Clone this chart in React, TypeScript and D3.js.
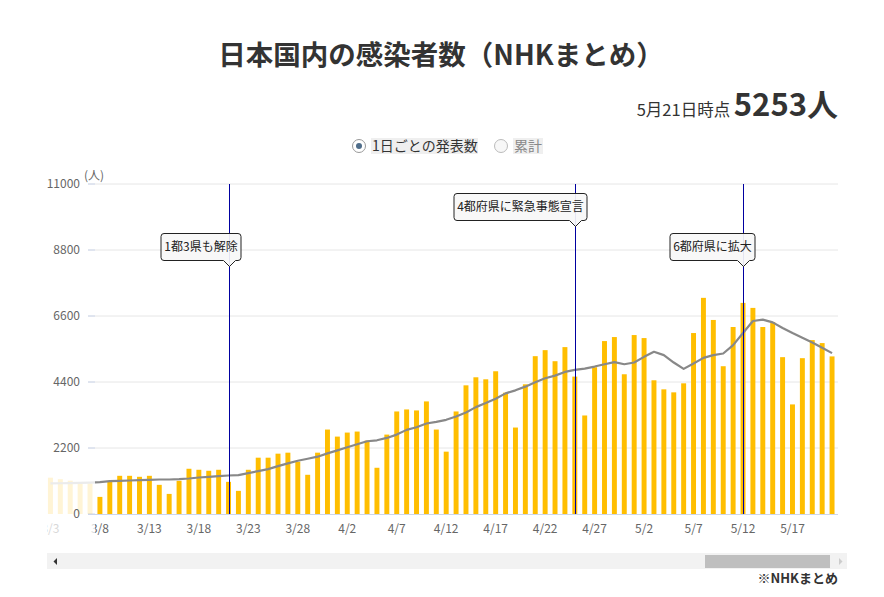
import React from "react";
import * as d3 from "d3";

const W = 884;
const H = 597;
const FONT = "'Noto Sans CJK JP', 'Noto Sans', sans-serif";
const BAR_COLOR = "#ffbe00";
const LINE_COLOR = "#888888";

// 3/3 - 5/21 (first five days sit behind the fixed y axis, faded)
const dates = [
  "3/3", "3/4", "3/5", "3/6", "3/7",
  "3/8", "3/9", "3/10", "3/11", "3/12", "3/13", "3/14", "3/15", "3/16", "3/17", "3/18", "3/19",
  "3/20", "3/21", "3/22", "3/23", "3/24", "3/25", "3/26", "3/27", "3/28", "3/29", "3/30", "3/31",
  "4/1", "4/2", "4/3", "4/4", "4/5", "4/6", "4/7", "4/8", "4/9", "4/10", "4/11", "4/12", "4/13",
  "4/14", "4/15", "4/16", "4/17", "4/18", "4/19", "4/20", "4/21", "4/22", "4/23", "4/24", "4/25",
  "4/26", "4/27", "4/28", "4/29", "4/30",
  "5/1", "5/2", "5/3", "5/4", "5/5", "5/6", "5/7", "5/8", "5/9", "5/10", "5/11", "5/12", "5/13",
  "5/14", "5/15", "5/16", "5/17", "5/18", "5/19", "5/20", "5/21",
];

// daily reported cases
const daily = [
  1210, 1160, 1110, 1020, 1020,
  570, 1095, 1273, 1273, 1240, 1273, 972, 670, 1106, 1508, 1474, 1441,
  1474, 1072, 771, 1474, 1877, 1877, 2011, 2044, 1743, 1307, 2044, 2815,
  2580, 2714, 2748, 2446, 1541, 2647, 3418, 3485, 3452, 3753, 2815, 2078, 3418,
  4289, 4557, 4490, 4758, 4044, 2882, 4323, 5261, 5462, 5093, 5563, 4580,
  3284, 4893, 5764, 5898, 4658,
  5965, 5864, 4457, 4155, 4055, 4356, 6032, 7205, 6468, 4926, 6233, 7037, 6870,
  6233, 6401, 5228, 3653, 5194, 5797, 5697, 5253,
];

// 7-day average line
const average = [
  1020, 1025, 1030, 1035, 1045,
  1061, 1095, 1106, 1117, 1128, 1139, 1150, 1150, 1162, 1184, 1217, 1240,
  1262, 1284, 1296, 1363, 1430, 1497, 1597, 1687, 1776, 1843, 1910, 2022,
  2122, 2223, 2323, 2424, 2457, 2536, 2647, 2804, 2893, 3016, 3072, 3139, 3250,
  3384, 3563, 3697, 3843, 4021, 4122, 4245, 4390, 4524, 4613, 4736, 4803,
  4848, 4915, 4993, 5060, 4993,
  5049, 5239, 5406, 5295, 5049, 4837, 5015, 5205, 5295, 5350, 5630, 6032, 6434,
  6479, 6389, 6200, 6032, 5875, 5719, 5540, 5362,
];

const yTicks = [0, 2200, 4400, 6600, 8800, 11000];
const xTickLabels = [
  "3/3", "3/8", "3/13", "3/18", "3/23", "3/28", "4/2", "4/7",
  "4/12", "4/17", "4/22", "4/27", "5/2", "5/7", "5/12", "5/17",
];

const eventDates = ["3/21", "4/25", "5/12"];
const eventLabels = ["1都3県も解除", "4都府県に緊急事態宣言", "6都府県に拡大"];
const eventRows = [0, 1, 0]; // 0 = lower row, 1 = upper row

const PLOT = { left: 88, right: 838, top: 184, bottom: 514, fadeEdge: 95 };

function labelWidth(t: string) {
  let w = 0;
  for (const c of t) w += /[0-9]/.test(c) ? 7 : 12;
  return w + 6;
}

function calloutPath(px: number, top: number, w: number, h: number) {
  const r = 3;
  const right = px + 11.5;
  const left = right - w;
  const bottom = top + h;
  return [
    `M${left + r},${top}`,
    `H${right - r}`,
    `Q${right},${top} ${right},${top + r}`,
    `V${bottom - r}`,
    `Q${right},${bottom} ${right - r},${bottom}`,
    `H${px + 6}`,
    `L${px},${bottom + 6}`,
    `L${px - 6},${bottom}`,
    `H${left + r}`,
    `Q${left},${bottom} ${left},${bottom - r}`,
    `V${top + r}`,
    `Q${left},${top} ${left + r},${top}`,
    "Z",
  ].join(" ");
}

export default function App() {
  const x = d3.scaleBand<string>().domain(dates).range([45.5, 837]).paddingInner(0.5).paddingOuter(0.25);
  const y = d3.scaleLinear().domain([0, 11000]).range([PLOT.bottom, PLOT.top]);
  const cx = (d: string) => (x(d) as number) + x.bandwidth() / 2;

  const line = d3
    .line<number>()
    .x((_, i) => cx(dates[i]))
    .y((v) => y(v));

  const series = (
    <>
      {dates.map((d, i) => (
        <rect key={d} x={x(d)} y={y(daily[i])} width={x.bandwidth()} height={PLOT.bottom - y(daily[i])} fill={BAR_COLOR} />
      ))}
      <path d={line(average) || ""} fill="none" stroke={LINE_COLOR} strokeWidth={2.2} strokeLinejoin="round" />
    </>
  );

  return (
    <div style={{ position: "absolute", left: 0, top: 0 }}>
      <svg width={W} height={H} style={{ display: "block", fontFamily: FONT }}>
        <defs>
          <clipPath id="clip-main">
            <rect x={PLOT.fadeEdge} y={0} width={PLOT.right - PLOT.fadeEdge + 4} height={H} />
          </clipPath>
          <clipPath id="clip-fade">
            <rect x={47} y={0} width={PLOT.fadeEdge - 47} height={H} />
          </clipPath>
        </defs>
        <rect width={W} height={H} fill="#fff" />

        {/* title */}
        <text x={441} y={65} textAnchor="middle" fontSize={27.5} fontWeight="bold" fill="#333">
          日本国内の感染者数（NHKまとめ）
        </text>
        <text x={838} y={116} textAnchor="end" fill="#333">
          <tspan fontSize={16.5}>5月21日時点 </tspan>
          <tspan fontSize={31} fontWeight="bold">5253人</tspan>
        </text>

        {/* legend */}
        <g>
          <circle cx={359} cy={146} r={6.5} fill="#fff" stroke="#999" />
          <circle cx={359} cy={146} r={3} fill="#4f6d8a" />
          <rect x={371} y={138} width={107} height={16} fill="#efefef" />
          <text x={372} y={151} fontSize={14} fill="#333">1日ごとの発表数</text>
          <circle cx={501} cy={146} r={6.5} fill="#f7f7f7" stroke="#bbb" />
          <rect x={513} y={138} width={30} height={16} fill="#efefef" />
          <text x={514} y={151} fontSize={14} fill="#888">累計</text>
        </g>

        {/* grid */}
        {yTicks.map((t) => (
          <g key={t}>
            {t > 0 && <line x1={PLOT.left} x2={PLOT.right} y1={y(t)} y2={y(t)} stroke="#e6e6e6" />}
            <line x1={PLOT.left} x2={PLOT.fadeEdge} y1={y(t)} y2={y(t)} stroke="#ccd6eb" />
          </g>
        ))}
        <line x1={PLOT.left} x2={PLOT.right} y1={PLOT.bottom + 0.5} y2={PLOT.bottom + 0.5} stroke="#ccd6eb" />

        {/* data */}
        <g clipPath="url(#clip-main)">{series}</g>
        <g clipPath="url(#clip-fade)" opacity={0.16}>{series}</g>

        {/* x labels */}
        <g clipPath="url(#clip-main)">
          {xTickLabels.map((d) => (
            <text key={d} x={cx(d)} y={533} textAnchor="middle" fontSize={12} fill="#666">{d}</text>
          ))}
        </g>
        <g clipPath="url(#clip-fade)" opacity={0.25}>
          {xTickLabels.map((d) => (
            <text key={d} x={cx(d)} y={533} textAnchor="middle" fontSize={12} fill="#666">{d}</text>
          ))}
        </g>

        {/* y labels */}
        {yTicks.map((t) => (
          <text key={t} x={80} y={y(t) + 4} textAnchor="end" fontSize={12} fill="#666">{t}</text>
        ))}
        <text x={84} y={180} fontSize={12} fill="#666">(人)</text>

        {/* event lines + callouts */}
        {eventDates.map((d, i) => {
          const px = Math.round(cx(d)) + 0.5;
          const top = eventRows[i] === 1 ? 193 : 233;
          const w = labelWidth(eventLabels[i]);
          return (
            <g key={d}>
              <line x1={px} x2={px} y1={PLOT.top} y2={PLOT.bottom} stroke="#0000a0" strokeWidth={1} />
              <path d={calloutPath(px, top + 0.5, w, 27)} fill="#f7f7f7" fillOpacity={0.92} stroke="#222" strokeWidth={1} />
              <text x={px + 11.5 - w / 2} y={top + 18} textAnchor="middle" fontSize={12} fill="#222">
                {eventLabels[i]}
              </text>
            </g>
          );
        })}

        {/* scrollbar */}
        <rect x={47} y={553} width={800} height={16} fill="#f2f2f2" />
        <rect x={705} y={555} width={125} height={13} fill="#bfbfbf" />
        <path d="M57,558 L57,565 L53.5,561.5 Z" fill="#333" />
        <path d="M839,558 L839,565 L842.5,561.5 Z" fill="#ccc" />

        <text x={838} y={583} textAnchor="end" fontSize={13} fontWeight="bold" fill="#333">※NHKまとめ</text>
      </svg>
    </div>
  );
}
